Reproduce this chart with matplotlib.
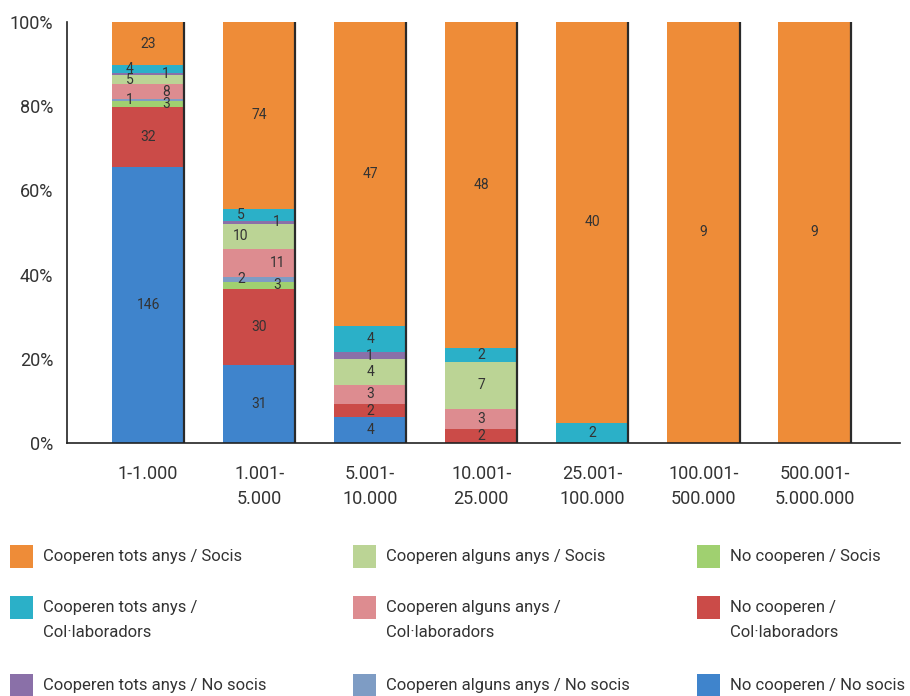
import matplotlib
matplotlib.use("Agg")
from matplotlib import pyplot as plt
from matplotlib.patches import Rectangle
import numpy as np

plt.rcParams['font.family'] = ['Roboto', 'DejaVu Sans']

# categories (population size)
categories = ['1-1.000', '1.001-\n5.000', '5.001-\n10.000', '10.001-\n25.000',
              '25.001-\n100.000', '100.001-\n500.000', '500.001-\n5.000.000']

# counts per series, stacked bottom -> top
no_coop_no_socis = [146, 31, 4, 0, 0, 0, 0]
alguns_no_socis = [1, 2, 0, 0, 0, 0, 0]
no_coop_colab = [32, 30, 2, 2, 0, 0, 0]
alguns_colab = [8, 11, 3, 3, 0, 0, 0]
tots_no_socis = [1, 1, 1, 0, 0, 0, 0]
tots_colab = [4, 5, 4, 2, 2, 0, 0]
no_coop_socis = [3, 3, 0, 0, 0, 0, 0]
alguns_socis = [5, 10, 4, 7, 0, 0, 0]
tots_socis = [23, 74, 47, 48, 40, 9, 9]

# colours
c_orange = '#EE8C38'
c_lgreen = '#BBD495'
c_green = '#A0D070'
c_cyan = '#2BB0C8'
c_pink = '#DD8C90'
c_red = '#CB4B48'
c_purple = '#8A70A8'
c_steel = '#7E9CC4'
c_blue = '#3F84CC'

# stack order bottom -> top
stack = [
    (no_coop_no_socis, c_blue),
    (no_coop_colab, c_red),
    (no_coop_socis, c_green),
    (alguns_no_socis, c_steel),
    (alguns_colab, c_pink),
    (alguns_socis, c_lgreen),
    (tots_no_socis, c_purple),
    (tots_colab, c_cyan),
    (tots_socis, c_orange),
]

# legend entries (row by row)
legend_labels = [
    'Cooperen tots anys / Socis', 'Cooperen alguns anys / Socis', 'No cooperen / Socis',
    'Cooperen tots anys /\nCol\u00b7laboradors', 'Cooperen alguns anys /\nCol\u00b7laboradors', 'No cooperen /\nCol\u00b7laboradors',
    'Cooperen tots anys / No socis', 'Cooperen alguns anys / No socis', 'No cooperen / No socis',
]
legend_colors = [c_orange, c_lgreen, c_green,
                 c_cyan, c_pink, c_red,
                 c_purple, c_steel, c_blue]

W, H = 910, 696
fig = plt.figure(figsize=(W / 100, H / 100), dpi=100)
ax = fig.add_axes([67 / W, 1 - 443 / H, (900 - 67) / W, (443 - 22) / H])

x = np.arange(len(categories))
width = 0.65
totals = np.sum([np.array(s) for s, _ in stack], axis=0)

bottom = np.zeros(len(categories))
segs = []
for vals, col in stack:
    vals = np.array(vals, dtype=float)
    pct = vals / totals * 100
    ax.bar(x, pct, width, bottom=bottom, color=col, edgecolor='none')
    segs.append((vals, pct, bottom.copy()))
    bottom = bottom + pct

# value labels (small segments of the big bars alternate left/right)
for i in range(len(categories)):
    side = -1
    for vals, pct, bot in reversed(segs):
        if vals[i] == 0:
            continue
        xc = x[i]
        if totals[i] > 100 and pct[i] < 8:
            xc = x[i] + side * width * 0.25
            side = -side
        ax.text(xc, bot[i] + pct[i] / 2, f'{int(vals[i])}', ha='center', va='center',
                fontsize=10, color='#333333')

# dark right edge of each bar
for xi in x:
    ax.plot([xi + width / 2, xi + width / 2], [0, 100], color='#2a2a2a', lw=1.6,
            solid_capstyle='butt')

ax.set_xlim(-0.73, len(categories) - 0.23)
ax.set_ylim(0, 100)
ax.set_yticks(range(0, 101, 20))
ax.set_yticklabels([f'{v}%' for v in range(0, 101, 20)])
ax.set_xticks(x)
ax.set_xticklabels(categories, linespacing=1.45)
ax.tick_params(length=0, labelsize=13, colors='#333333')
ax.tick_params(axis='x', pad=16)
ax.tick_params(axis='y', pad=10)
for s in ['top', 'right']:
    ax.spines[s].set_visible(False)
for s in ['left', 'bottom']:
    ax.spines[s].set_color('#222222')
    ax.spines[s].set_linewidth(1.2)

# legend drawn on a fixed grid
col_x = [10, 353, 697]
row_y = [545, 596, 674]
box = 23
for k, (lab, col) in enumerate(zip(legend_labels, legend_colors)):
    r, c = divmod(k, 3)
    x0, y0 = col_x[c], row_y[r]
    fig.add_artist(Rectangle((x0 / W, 1 - (y0 + box) / H), box / W, box / H,
                             transform=fig.transFigure, color=col, lw=0))
    lines = lab.split('\n')
    for j, line in enumerate(lines):
        fig.text((x0 + box + 10) / W, 1 - (y0 + box / 2 + 25 * j) / H, line,
                 ha='left', va='center', fontsize=12, color='#333333')

fig.savefig('out.png', dpi=100)
